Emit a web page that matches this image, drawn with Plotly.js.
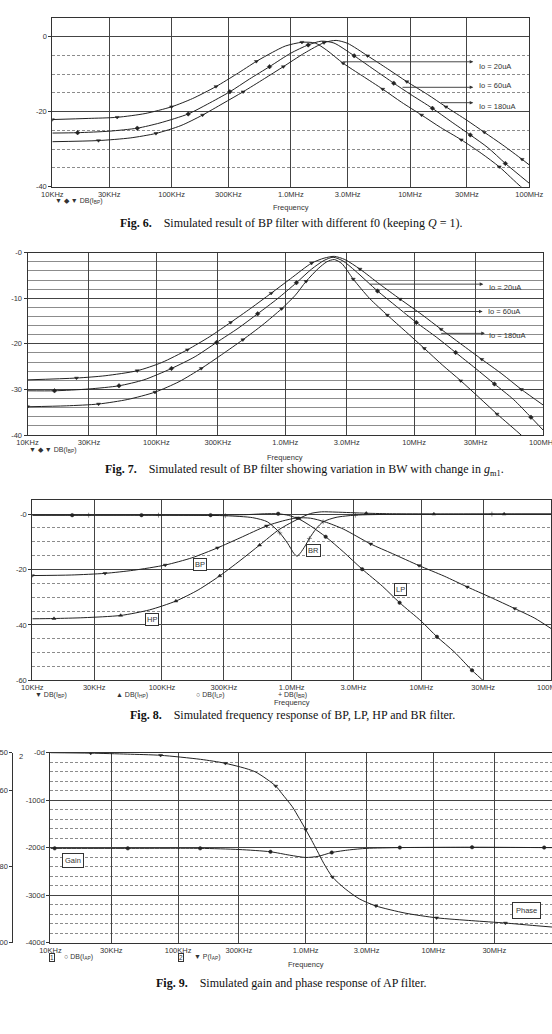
<!DOCTYPE html>
<html>
<head>
<meta charset="utf-8">
<script src="https://cdn.plot.ly/plotly-3.0.1.min.js"></script>
<style>
  html, body { margin: 0; padding: 0; overflow: hidden; background: #fff; }
  #fig { width: 566px; height: 1034px; }
</style>
</head>
<body>
<div id="fig"></div>
<script>
// ---------- shared frequency axis ----------
const freqTicks = [1e4, 3e4, 1e5, 3e5, 1e6, 3e6, 1e7, 3e7, 1e8];
const freqTickText = ['10KHz', '30KHz', '100KHz', '300KHz', '1.0MHz', '3.0MHz', '10MHz', '30MHz', '100MHz'];

// ---------- Fig. 6: BP filter, different f0 (Q = 1) ----------
const f6Io20Freq = [1e4, 2e4, 3.5e4, 6e4, 1e5, 1.5e5, 2.36e5, 3.5e5, 5.14e5, 7e5, 9e5, 1.24e6, 1.6e6, 2e6, 2.75e6, 4e6, 5.9e6, 8.5e6, 1.25e7, 1.8e7, 2.69e7, 4e7, 5.6e7, 8.5e7, 1e8];
const f6Io20Db   = [-22.1, -21.8, -21.5, -20.5, -18.7, -16.5, -13.3, -10.0, -6.6, -4.2, -2.5, -1.5, -1.7, -3.6, -7.1, -10.5, -14.0, -17.5, -20.9, -24.2, -27.5, -31.2, -34.7, -40.0, -41.6];
const f6Io20Marks = [0, 2, 4, 6, 8, 11, 14, 16, 18, 20, 22];

const f6Io60Freq = [1e4, 1.63e4, 3e4, 5.16e4, 8e4, 1.38e5, 2e5, 3.08e5, 4.5e5, 6.63e5, 1e6, 1.4e6, 1.8e6, 2.3e6, 3.4e6, 5e6, 7.3e6, 1e7, 1.54e7, 2.2e7, 3.2e7, 4.5e7, 6.3e7, 1e8];
const f6Io60Db   = [-25.7, -25.6, -25.2, -24.4, -23.0, -20.6, -18.0, -14.7, -11.3, -8.0, -4.4, -2.2, -1.2, -1.7, -5.1, -8.8, -12.4, -15.3, -19.1, -22.6, -26.2, -29.6, -33.8, -39.1];
const f6Io60Marks = [1, 3, 5, 7, 9, 11, 14, 16, 18, 20, 22];

const f6Io180Freq = [1e4, 2.44e4, 4.5e4, 7.4e4, 1.2e5, 1.82e5, 2.7e5, 3.98e5, 6e5, 8.66e5, 1.3e6, 1.9e6, 2.4e6, 3e6, 4.4e6, 6.5e6, 9.4e6, 1.4e7, 2e7, 3e7, 4.2e7, 6e7, 8.7e7, 1e8];
const f6Io180Db   = [-28.0, -27.7, -27.0, -25.8, -23.7, -20.9, -17.8, -14.7, -11.2, -8.0, -4.4, -1.6, -1.0, -1.8, -5.1, -8.6, -12.0, -15.4, -18.7, -22.3, -25.5, -28.9, -32.7, -34.2];
const f6Io180Marks = [1, 3, 5, 7, 9, 11, 14, 16, 18, 20, 22];

const f6YTicks = [0, -20, -40];
const f6YText  = ['0', '-20', '-40'];

// ---------- Fig. 7: BP filter, BW vs gm1 ----------
const f7WideFreq = [1e4, 2.4e4, 4e4, 7.1e4, 1.1e5, 1.74e5, 2.6e5, 3.77e5, 5.4e5, 7.77e5, 1.1e6, 1.6e6, 2.0e6, 2.4e6, 2.9e6, 3.8e6, 5.4e6, 7.8e6, 1.15e7, 1.62e7, 2.3e7, 3.35e7, 4.8e7, 6.8e7, 1e8];
const f7WideDb   = [-27.9, -27.5, -27.0, -25.9, -24.1, -21.3, -18.4, -15.3, -12.2, -8.9, -5.7, -2.3, -1.2, -0.8, -1.5, -3.6, -6.9, -10.2, -13.6, -16.8, -20.0, -23.4, -26.6, -30.0, -33.4];
const f7WideMarks = [1, 3, 5, 7, 9, 11, 15, 17, 19, 21, 23];

const f7MidFreq = [1e4, 1.62e4, 3e4, 5.13e4, 8e4, 1.31e5, 2e5, 2.93e5, 4.3e5, 6.11e5, 8.7e5, 1.22e6, 1.6e6, 2.0e6, 2.35e6, 2.8e6, 3.5e6, 5.2e6, 7.3e6, 1.04e7, 1.5e7, 2.1e7, 3e7, 4.2e7, 5.9e7, 8.06e7, 1e8];
const f7MidDb   = [-30.3, -30.3, -29.9, -29.2, -27.9, -25.4, -22.8, -19.7, -16.6, -13.4, -10.1, -6.6, -3.6, -1.7, -1.0, -1.8, -4.0, -8.4, -11.8, -15.3, -18.6, -21.9, -25.4, -28.8, -32.2, -36.1, -38.9];
const f7MidMarks = [1, 3, 5, 7, 9, 11, 17, 19, 21, 23, 25];

const f7NarrowFreq = [1e4, 2e4, 3.56e4, 6e4, 9.75e4, 1.5e5, 2.23e5, 3.2e5, 4.69e5, 6.7e5, 9.37e5, 1.2e6, 1.45e6, 1.8e6, 2.1e6, 2.4e6, 2.75e6, 3.37e6, 4.5e6, 6.2e6, 8.6e6, 1.2e7, 1.65e7, 2.3e7, 3.2e7, 4.4e7, 6.76e7, 8e7];
const f7NarrowDb   = [-33.8, -33.6, -33.2, -32.2, -30.6, -28.3, -25.4, -22.4, -19.1, -15.8, -12.3, -9.3, -6.3, -3.5, -2.0, -1.5, -2.4, -5.8, -10.0, -13.7, -17.3, -21.0, -24.6, -28.1, -31.8, -35.4, -40.0, -42.0];
const f7NarrowMarks = [0, 2, 4, 6, 8, 10, 12, 17, 19, 21, 23, 25];

const f7YTicks = [0, -10, -20, -30, -40];
const f7YText  = ['-0', '-10', '-20', '-30', '-40'];

// ---------- Fig. 8: BP, LP, HP and BR responses ----------
const f8BpFreq = [1e4, 2e4, 3.64e4, 6e4, 1.06e5, 1.7e5, 2.68e5, 4e5, 6.4e5, 8.5e5, 1.1e6, 1.4e6, 1.8e6, 2.5e6, 4.07e6, 6e6, 9.6e6, 1.5e7, 2.26e7, 3.4e7, 5.25e7, 7.5e7, 1e8];
const f8BpDb   = [-22.2, -22.0, -21.4, -20.3, -18.4, -15.8, -12.2, -8.6, -4.3, -2.5, -1.4, -1.5, -2.8, -5.4, -10.8, -14.3, -18.6, -22.4, -26.3, -30.0, -34.1, -37.6, -41.3];
const f8BpMarks = [0, 2, 4, 6, 8, 10, 14, 16, 18, 20];

const f8HpFreq = [1e4, 1.47e4, 2.5e4, 4.8e4, 8e4, 1.28e5, 1.9e5, 2.79e5, 4e5, 5.66e5, 8e5, 1.14e6, 1.4e6, 1.7e6, 2.2e6, 3.76e6, 6e6, 1.25e7, 4.35e7, 1e8];
const f8HpDb   = [-37.8, -37.7, -37.4, -36.6, -34.6, -31.4, -27.4, -22.3, -16.8, -11.2, -5.6, -1.6, 0.2, 0.8, 0.7, 0.3, 0.1, 0.0, 0.0, 0.0];
const f8HpMarks = [1, 3, 5, 7, 9, 11, 15, 17, 18];

const f8LpFreq = [1e4, 2.03e4, 6.95e4, 2.37e5, 4.5e5, 6.2e5, 7.87e5, 9.5e5, 1.15e6, 1.4e6, 1.83e6, 2.5e6, 3.5e6, 5e6, 6.8e6, 1e7, 1.32e7, 1.8e7, 2.46e7, 3.2e7];
const f8LpDb   = [-0.4, -0.4, -0.4, -0.4, -0.2, 0.1, 0.1, -0.5, -1.9, -4.3, -8.2, -13.6, -19.9, -26.0, -32.0, -38.7, -44.3, -49.8, -56.4, -61.3];
const f8LpMarks = [1, 2, 3, 6, 10, 12, 14, 16, 18];

const f8BrFreq = [1e4, 2.72e4, 9.4e4, 3.08e5, 5e5, 6.5e5, 8.1e5, 9.3e5, 1.04e6, 1.1e6, 1.17e6, 1.27e6, 1.37e6, 1.55e6, 1.75e6, 2.2e6, 3.1e6, 6e6, 3.5e7, 1e8];
const f8BrDb   = [-0.4, -0.4, -0.4, -0.6, -1.3, -2.8, -6.8, -10.5, -14.2, -15.2, -14.0, -11.5, -8.8, -5.2, -2.8, -1.2, -0.4, -0.1, 0.0, 0.0];
const f8BrMarks = [1, 2, 3, 6, 12, 14, 16, 18];

const f8YTicks = [0, -20, -40, -60];
const f8YText  = ['-0', '-20', '-40', '-60'];

// ---------- Fig. 9: AP filter gain and phase ----------
const f9PhaseFreq = [1e4, 2.07e4, 4e4, 7.3e4, 1.5e5, 2.35e5, 4e5, 5.83e5, 6.5e5, 7.86e5, 8.93e5, 1.0e6, 1.115e6, 1.227e6, 1.39e6, 1.62e6, 2.04e6, 2.63e6, 3.55e6, 6e6, 1.06e7, 2e7, 3.67e7, 6e7, 1e8];
const f9PhaseDeg  = [0, -1, -3, -5.5, -14, -22.4, -40, -70.4, -86, -114, -139, -162, -185, -206, -234, -262, -287, -308, -323, -338, -348, -354, -359, -364, -369];
const f9PhaseMarks = [1, 3, 5, 7, 11, 15, 18, 20, 22];

const f9GainFreq = [1e4, 1.08e4, 4.04e4, 1.49e5, 3e5, 5.3e5, 7.5e5, 1e6, 1.25e6, 1.6e6, 2.2e6, 3e6, 5.46e6, 2.01e7, 7.38e7, 1e8];
const f9GainDb   = [-75.2, -75.2, -75.2, -75.2, -75.5, -76.1, -77.0, -77.6, -77.3, -76.3, -75.6, -75.2, -75.0, -74.9, -75.0, -75.0];
const f9GainMarks = [1, 2, 3, 5, 9, 12, 13, 14];

const f9PhaseTicks = [0, -100, -200, -300, -400];
const f9PhaseText  = ['-0d', '-100d', '-200d', '-300d', '-400d'];
const f9GainTicks  = [-50, -60, -80, -100];
const f9GainText   = ['-50', '-60', '-80', '-100'];

// ---------- page geometry (pixels) ----------
const W = 566, H = 1034;
const SANS = 'Liberation Sans, Arial, sans-serif';
const SERIF = 'Liberation Serif, Times New Roman, serif';
const INK = '#222';
const AXIS_INK = '#333';

function frame(l, t, r, b) { return { x: [l / W, r / W], y: [1 - b / H, 1 - t / H] }; }
const box1 = frame(52.3, 17.9, 529.3, 186.7);
const box2 = frame(27.5, 252.7, 543, 435);
const box3 = frame(32.3, 500.2, 551, 680.3);
const box4 = frame(50.4, 752.7, 561, 942.5);

function freqAxis(dom, anchor) {
  return {
    type: 'log', domain: dom.x, range: [4, 8], anchor: anchor,
    tickmode: 'array', tickvals: freqTicks, ticktext: freqTickText,
    ticks: '', showgrid: true, gridcolor: '#444', gridwidth: 1,
    showline: true, mirror: true, linecolor: AXIS_INK, linewidth: 1,
    zeroline: false, tickfont: { family: SANS, size: 7.5, color: AXIS_INK },
    fixedrange: true
  };
}

function levelAxis(dom, anchor, range, vals, text, minorStep, minorDash) {
  return {
    domain: dom.y, range: range, anchor: anchor,
    tickmode: 'array', tickvals: vals, ticktext: text,
    ticks: 'outside', ticklen: 3, tickwidth: 1, tickcolor: AXIS_INK,
    showgrid: true, gridcolor: '#444', gridwidth: 1,
    showline: true, mirror: true, linecolor: AXIS_INK, linewidth: 1,
    zeroline: false, tickfont: { family: SANS, size: 7.5, color: AXIS_INK },
    minor: { tickmode: 'linear', tick0: 0, dtick: minorStep, showgrid: true,
             gridcolor: '#8c8c8c', gridwidth: 1, griddash: minorDash, ticks: '' },
    fixedrange: true
  };
}

// ---------- traces ----------
const traces = [];
function addCurve(freq, vals, marks, symbol, xa, ya) {
  traces.push({
    type: 'scatter', mode: 'lines', x: freq, y: vals, xaxis: xa, yaxis: ya,
    line: { color: INK, width: 1, shape: 'spline', smoothing: 0.7 },
    hoverinfo: 'skip'
  });
  traces.push({
    type: 'scatter', mode: 'markers', xaxis: xa, yaxis: ya,
    x: marks.map(i => freq[i]), y: marks.map(i => vals[i]),
    marker: { symbol: symbol, size: 3.5, color: INK, line: { color: INK, width: 0.5 } },
    hoverinfo: 'skip'
  });
}

addCurve(f6Io20Freq, f6Io20Db, f6Io20Marks, 'triangle-down', 'x', 'y');
addCurve(f6Io60Freq, f6Io60Db, f6Io60Marks, 'diamond', 'x', 'y');
addCurve(f6Io180Freq, f6Io180Db, f6Io180Marks, 'triangle-down', 'x', 'y');

addCurve(f7WideFreq, f7WideDb, f7WideMarks, 'triangle-down', 'x2', 'y2');
addCurve(f7MidFreq, f7MidDb, f7MidMarks, 'diamond', 'x2', 'y2');
addCurve(f7NarrowFreq, f7NarrowDb, f7NarrowMarks, 'triangle-down', 'x2', 'y2');

addCurve(f8BpFreq, f8BpDb, f8BpMarks, 'triangle-down', 'x3', 'y3');
addCurve(f8HpFreq, f8HpDb, f8HpMarks, 'triangle-up', 'x3', 'y3');
addCurve(f8LpFreq, f8LpDb, f8LpMarks, 'circle', 'x3', 'y3');
addCurve(f8BrFreq, f8BrDb, f8BrMarks, 'cross-thin', 'x3', 'y3');

addCurve(f9GainFreq, f9GainDb, f9GainMarks, 'circle', 'x4', 'y5');
addCurve(f9PhaseFreq, f9PhaseDeg, f9PhaseMarks, 'triangle-down', 'x4', 'y4');

// ---------- annotations ----------
const notes = [];
const lg = Math.log10;

function pageText(x, y, text, opts) {
  notes.push(Object.assign({
    xref: 'paper', yref: 'paper', x: x / W, y: 1 - y / H, text: text,
    showarrow: false, xanchor: 'left', yanchor: 'middle',
    font: { family: SANS, size: 7.5, color: AXIS_INK }
  }, opts || {}));
}
function legendText(x, y, text) {
  pageText(x, y, text, { font: { family: SANS, size: 7, color: AXIS_INK } });
}
function pointer(xa, ya, fromF, toF, level) {
  notes.push({
    xref: xa, yref: ya, axref: xa, ayref: ya,
    x: lg(toF), y: level, ax: lg(fromF), ay: level, text: '',
    showarrow: true, arrowhead: 2, arrowsize: 0.8, arrowwidth: 0.9,
    arrowcolor: '#333', standoff: 0, startstandoff: 0
  });
}
function plotText(xa, ya, f, level, text, opts) {
  notes.push(Object.assign({
    xref: xa, yref: ya, x: lg(f), y: level, text: text, showarrow: false,
    xanchor: 'left', yanchor: 'middle',
    font: { family: SANS, size: 7.5, color: AXIS_INK }
  }, opts || {}));
}
function tag(xa, ya, f, level, text, pad) {
  notes.push({
    xref: xa, yref: ya, x: lg(f), y: level, text: text, showarrow: false,
    xanchor: 'center', yanchor: 'middle', bordercolor: '#333', borderwidth: 1,
    borderpad: pad, bgcolor: '#fff', font: { family: SANS, size: 7.5, color: AXIS_INK }
  });
}
function caption(cx, y, label, body) {
  notes.push({
    xref: 'paper', yref: 'paper', x: cx / W, y: 1 - y / H,
    text: '<b>' + label + '</b>\u00a0\u00a0\u00a0\u00a0' + body,
    showarrow: false, xanchor: 'center', yanchor: 'middle',
    font: { family: SERIF, size: 12, color: '#111' }
  });
}

// Fig. 6 pointers and labels
pointer('x', 'y', 2.64e6, 3.39e7, -6.7);
pointer('x', 'y', 8.4e6, 3.39e7, -13.5);
pointer('x', 'y', 1.76e7, 3.39e7, -17.6);
plotText('x', 'y', 3.62e7, -7.9, 'Io = 20uA');
plotText('x', 'y', 3.62e7, -13.1, 'Io = 60uA');
plotText('x', 'y', 3.62e7, -18.6, 'Io = 180uA');
legendText(53, 201, '\u25BC \u25C6 \u25BC DB(I<sub>BP</sub>)');
pageText(291, 207.5, 'Frequency', { xanchor: 'center' });
caption(291, 223.3, 'Fig. 6.', 'Simulated result of BP filter with different f0 (keeping <i>Q</i> = 1).');

// Fig. 7 pointers and labels
pointer('x2', 'y2', 4.39e6, 3.44e7, -6.9);
pointer('x2', 'y2', 8.18e6, 3.40e7, -12.9);
pointer('x2', 'y2', 1.58e7, 3.54e7, -17.7);
plotText('x2', 'y2', 3.65e7, -7.7, 'Io = 20uA');
plotText('x2', 'y2', 3.60e7, -12.9, 'Io = 60uA');
plotText('x2', 'y2', 3.65e7, -18.2, 'Io = 180uA');
legendText(27, 450.5, '\u25BC \u25C6 \u25BC DB(I<sub>BP</sub>)');
pageText(285, 457, 'Frequency', { xanchor: 'center' });
caption(304, 470, 'Fig. 7.', 'Simulated result of BP filter showing variation in BW with change in <i>g</i><sub>m1</sub>.');

// Fig. 8 tags and legend
tag('x3', 'y3', 1.96e5, -18.1, 'BP', 1);
tag('x3', 'y3', 8.45e4, -38.1, 'HP', 1);
tag('x3', 'y3', 1.47e6, -13.0, 'BR', 1);
tag('x3', 'y3', 6.9e6, -27.3, 'LP', 1);
legendText(32.5, 695, '\u25BC DB(I<sub>BP</sub>)');
legendText(114.4, 695, '\u25B2 DB(I<sub>HP</sub>)');
legendText(193.7, 695, '\u25CB DB(I<sub>LP</sub>)');
legendText(276.4, 695, '+ DB(I<sub>BR</sub>)');
pageText(292, 702, 'Frequency', { xanchor: 'center' });
caption(292, 715, 'Fig. 8.', 'Simulated frequency response of BP, LP, HP and BR filter.');

// Fig. 9 tags and legend
tag('x4', 'y4', 1.51e4, -226.8, 'Gain', 2);
tag('x4', 'y4', 5.32e7, -332.6, 'Phase', 3);
pageText(21, 756.5, '2', { xanchor: 'center' });
pageText(48.5, 957, '1', { bordercolor: '#333', borderwidth: 1, borderpad: 0, font: { family: SANS, size: 6.5, color: AXIS_INK } });
legendText(62, 957, '\u25CB DB(I<sub>AP</sub>)');
pageText(178, 957, '2', { bordercolor: '#333', borderwidth: 1, borderpad: 0, font: { family: SANS, size: 6.5, color: AXIS_INK } });
legendText(192, 957, '\u25BC P(I<sub>AP</sub>)');
pageText(305.6, 964.5, 'Frequency', { xanchor: 'center' });
caption(291, 983, 'Fig. 9.', 'Simulated gain and phase response of AP filter.');

// ---------- layout ----------
const gainAxis = {
  overlaying: 'y4', anchor: 'free', position: 12.3 / W, side: 'left',
  range: [-100, -50], tickmode: 'array', tickvals: f9GainTicks, ticktext: f9GainText,
  ticks: 'outside', ticklen: 3, tickwidth: 1, tickcolor: AXIS_INK,
  showgrid: false, zeroline: false, showline: true, linecolor: AXIS_INK, linewidth: 1,
  tickfont: { family: SANS, size: 7.5, color: AXIS_INK }, fixedrange: true
};

const layout = {
  width: W, height: H,
  margin: { l: 0, r: 0, t: 0, b: 0, autoexpand: false },
  paper_bgcolor: '#fff', plot_bgcolor: '#fff',
  showlegend: false,
  xaxis: freqAxis(box1, 'y'),
  yaxis: levelAxis(box1, 'x', [-40, 5], f6YTicks, f6YText, 5, '3px,2px'),
  xaxis2: freqAxis(box2, 'y2'),
  yaxis2: levelAxis(box2, 'x2', [-40, 0], f7YTicks, f7YText, 2, 'solid'),
  xaxis3: freqAxis(box3, 'y3'),
  yaxis3: levelAxis(box3, 'x3', [-60, 5], f8YTicks, f8YText, 5, '3px,2px'),
  xaxis4: freqAxis(box4, 'y4'),
  yaxis4: levelAxis(box4, 'x4', [-400, 0], f9PhaseTicks, f9PhaseText, 20, '3px,2px'),
  yaxis5: gainAxis,
  annotations: notes
};

Plotly.newPlot('fig', traces, layout, { staticPlot: true, displayModeBar: false });
</script>
</body>
</html>
